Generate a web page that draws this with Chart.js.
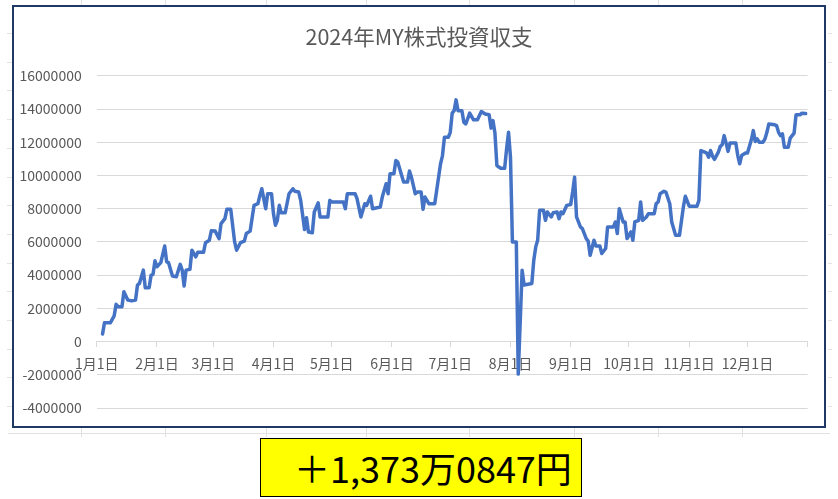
<!DOCTYPE html>
<html>
<head>
<meta charset="utf-8">
<script src="https://cdn.jsdelivr.net/npm/chart.js@4.4.1/dist/chart.umd.min.js"></script>
<style>
  html, body { margin: 0; padding: 0; background: #fff; }
  body { width: 838px; height: 499px; position: relative; overflow: hidden; font-family: "Noto Sans CJK JP", sans-serif; }
  .cv { position: absolute; width: 1px; background: #e2e2e2; }
  .ch { position: absolute; height: 1px; background: #e2e2e2; }
  #box { position: absolute; left: 12px; top: 5px; width: 810px; height: 419px; border: 2px solid #1f3864; background: #fff; }
  #box canvas { display: block; }
  #total { position: absolute; left: 260px; top: 438px; width: 320px; height: 57px; border: 1px solid #000; background: #ffff00; }
  #total span { position: absolute; left: 33px; top: 0; line-height: 57px; font-size: 36px; color: #000; white-space: nowrap; }
</style>
</head>
<body>
<div id="box"><canvas id="chart" width="810" height="419"></canvas></div>
<div id="total"><span>＋1,373万0847円</span></div>

<script>
// x axis: day of year (0 = 1月1日)
const monthStarts = [0, 31, 60, 91, 121, 152, 182, 213, 244, 274, 305, 335, 366];
const monthLabels = ["1月1日", "2月1日", "3月1日", "4月1日", "5月1日", "6月1日",
  "7月1日", "8月1日", "9月1日", "10月1日", "11月1日", "12月1日", ""];
const yTicks = [-4000000, -2000000, 0, 2000000, 4000000, 6000000, 8000000,
  10000000, 12000000, 14000000, 16000000];

const days = [
  3, 4, 7, 9, 10, 11, 13, 14, 16, 18, 20, 21, 22, 24, 25, 27, 28, 29, 30, 31,
  33, 35, 36, 37, 39, 41, 43, 44, 45, 46, 48, 49, 51, 52, 55, 56, 58, 59, 61, 63,
  64, 66, 67, 69, 71, 72, 74, 76, 77, 79, 81, 83, 84, 85, 87, 88, 90, 91, 92, 93,
  94, 95, 97, 99, 101, 102, 104, 105, 107, 108, 109, 111, 112, 114, 115, 119, 120, 121, 127, 128,
  129, 133, 134, 136, 138, 139, 141, 142, 146, 147, 149, 150, 151, 153, 154, 155, 157, 158, 160, 161,
  162, 164, 165, 167, 168, 169, 171, 174, 175, 177, 178, 179, 181, 182, 183, 184, 185, 186, 188, 189,
  190, 192, 194, 196, 198, 200, 202, 203, 204, 205, 206, 208, 210, 211, 212, 213, 214, 216, 217, 219,
  220, 224, 225, 226, 227, 228, 230, 231, 232, 234, 235, 237, 238, 239, 240, 242, 244, 245, 246, 247,
  249, 250, 252, 253, 254, 256, 257, 259, 260, 262, 263, 266, 267, 268, 269, 271, 272, 273, 275, 276,
  277, 279, 280, 281, 283, 284, 287, 288, 289, 290, 292, 293, 295, 296, 298, 300, 302, 303, 305, 309,
  310, 311, 313, 314, 315, 316, 317, 318, 320, 321, 322, 323, 324, 325, 326, 329, 330, 331, 332, 334,
  335, 337, 338, 339, 340, 341, 343, 344, 345, 346, 349, 350, 351, 352, 353, 354, 356, 357, 358, 359,
  360, 362, 363, 365
];

const values = [
  450000, 1130000, 1130000, 1550000, 2240000, 2100000, 2100000, 3000000, 2500000, 2450000,
  2500000, 3400000, 3500000, 4300000, 3240000, 3240000, 4000000, 4050000, 4870000, 4500000,
  4750000, 5750000, 4800000, 4750000, 3950000, 3900000, 4650000, 4300000, 3340000, 4300000,
  4350000, 5500000, 5100000, 5370000, 5370000, 5950000, 6100000, 6670000, 6650000, 6200000,
  7100000, 7400000, 7960000, 7960000, 6000000, 5500000, 5950000, 6050000, 6500000, 6650000,
  8200000, 8300000, 8800000, 9200000, 8000000, 8900000, 8900000, 7700000, 7000000, 7300000,
  8200000, 7750000, 7750000, 8900000, 9200000, 9050000, 9000000, 8500000, 6750000, 7450000,
  6600000, 6550000, 7800000, 8350000, 7500000, 7500000, 8500000, 8400000, 8400000, 8000000,
  8900000, 8900000, 8600000, 7500000, 8300000, 8200000, 8750000, 8000000, 8100000, 8700000,
  9500000, 8900000, 10100000, 10100000, 10900000, 10800000, 10000000, 9600000, 9600000, 10270000,
  9900000, 8900000, 9000000, 9000000, 7960000, 8700000, 8300000, 8300000, 9100000, 10700000,
  11200000, 12300000, 12300000, 12600000, 13750000, 13900000, 14550000, 13900000, 13900000, 13200000,
  13100000, 13750000, 13350000, 13350000, 13850000, 13700000, 13650000, 12850000, 13300000, 12550000,
  10600000, 10430000, 10430000, 11600000, 12600000, 11100000, 6000000, 6000000, -1960000, 4300000,
  3400000, 3500000, 4900000, 5700000, 6100000, 7900000, 7900000, 7300000, 7800000, 7500000,
  7750000, 7800000, 7400000, 7800000, 7700000, 8200000, 8250000, 9000000, 9900000, 7500000,
  6900000, 6800000, 6200000, 6050000, 5200000, 6100000, 5750000, 5750000, 5300000, 5600000,
  6900000, 6900000, 7200000, 6500000, 8000000, 7200000, 7200000, 6200000, 6600000, 6100000,
  7200000, 7300000, 8400000, 7300000, 7500000, 7700000, 7700000, 8300000, 8400000, 8900000,
  9050000, 9000000, 8300000, 7200000, 6400000, 6400000, 8100000, 8750000, 8150000, 8150000,
  8500000, 11500000, 11400000, 11350000, 11100000, 11500000, 11170000, 10970000, 11400000, 11750000,
  11850000, 12400000, 11950000, 11450000, 11950000, 11950000, 11200000, 10700000, 11200000, 11350000,
  11350000, 12150000, 12700000, 12050000, 12200000, 12000000, 12000000, 12200000, 12600000, 13100000,
  13050000, 13000000, 12600000, 12400000, 12500000, 11700000, 11700000, 12250000, 12400000, 12550000,
  13650000, 13650000, 13750000, 13730847
];

// faint spreadsheet cell lines around the chart
const sheetCols = [81, 165, 266, 366, 469, 574, 658, 742];
sheetCols.forEach(x => {
  [[0, 5], [428, 9]].forEach(([top, h]) => {
    const d = document.createElement("div");
    d.className = "cv";
    d.style.left = x + "px"; d.style.top = top + "px"; d.style.height = h + "px";
    document.body.appendChild(d);
  });
});
for (let y = 33; y < 430; y += 28.7) {
  [[7, 5], [828, 4]].forEach(([left, w]) => {
    const d = document.createElement("div");
    d.className = "ch";
    d.style.left = left + "px"; d.style.top = Math.round(y) + "px"; d.style.width = w + "px";
    document.body.appendChild(d);
  });
}
const bottomLine = document.createElement("div");
bottomLine.className = "ch";
bottomLine.style.left = "8px"; bottomLine.style.top = "433px"; bottomLine.style.width = "822px";
document.body.appendChild(bottomLine);

const font = "'Noto Sans CJK JP', 'Noto Sans', sans-serif";
const ctx = document.getElementById("chart");

new Chart(ctx, {
  type: "line",
  data: {
    datasets: [{
      data: days.map((d, i) => ({ x: d, y: values[i] })),
      borderColor: "#4472c4",
      borderWidth: 3.5,
      borderJoinStyle: "round",
      borderCapStyle: "round",
      pointRadius: 0,
      tension: 0,
      fill: false
    }]
  },
  options: {
    responsive: false,
    animation: false,
    layout: { padding: { left: 0, right: 0, top: 0, bottom: 18 } },
    plugins: {
      legend: { display: false },
      tooltip: { enabled: false },
      title: {
        display: true,
        text: "2024年MY株式投資収支",
        color: "#595959",
        font: { family: font, size: 21.5, weight: "normal" },
        padding: { top: 17, bottom: 26 }
      }
    },
    scales: {
      x: {
        type: "linear",
        min: 0,
        max: 366,
        position: { y: 0 },
        afterFit: s => { s.height = 0; },
        afterBuildTicks: s => { s.ticks = monthStarts.map(v => ({ value: v })); },
        ticks: {
          autoSkip: false,
          maxRotation: 0,
          padding: 9,
          color: "#595959",
          font: { family: font, size: 14 },
          callback: (v, i) => monthLabels[i]
        },
        grid: { drawOnChartArea: false, drawTicks: true, tickLength: 5, color: "#d9d9d9" },
        border: { display: true, color: "#d9d9d9", width: 1 }
      },
      y: {
        min: -4000000,
        max: 16000000,
        afterBuildTicks: s => { s.ticks = yTicks.map(v => ({ value: v })); },
        afterFit: s => { s.width = 82.7; },
        ticks: {
          padding: 0,
          color: "#595959",
          font: { family: font, size: 14 },
          callback: v => String(v)
        },
        // invisible tick marks keep the 15px gap between labels and plot
        grid: { color: "#d9d9d9", drawTicks: true, tickLength: 15, tickColor: "rgba(0,0,0,0)" },
        border: { display: false }
      },
      // empty right-hand strip, so the title stays centred on the whole box
      yRight: {
        position: "right",
        afterFit: s => { s.width = 16.3; },
        ticks: { display: false },
        grid: { display: false },
        border: { display: false }
      }
    }
  }
});
</script>
</body>
</html>
